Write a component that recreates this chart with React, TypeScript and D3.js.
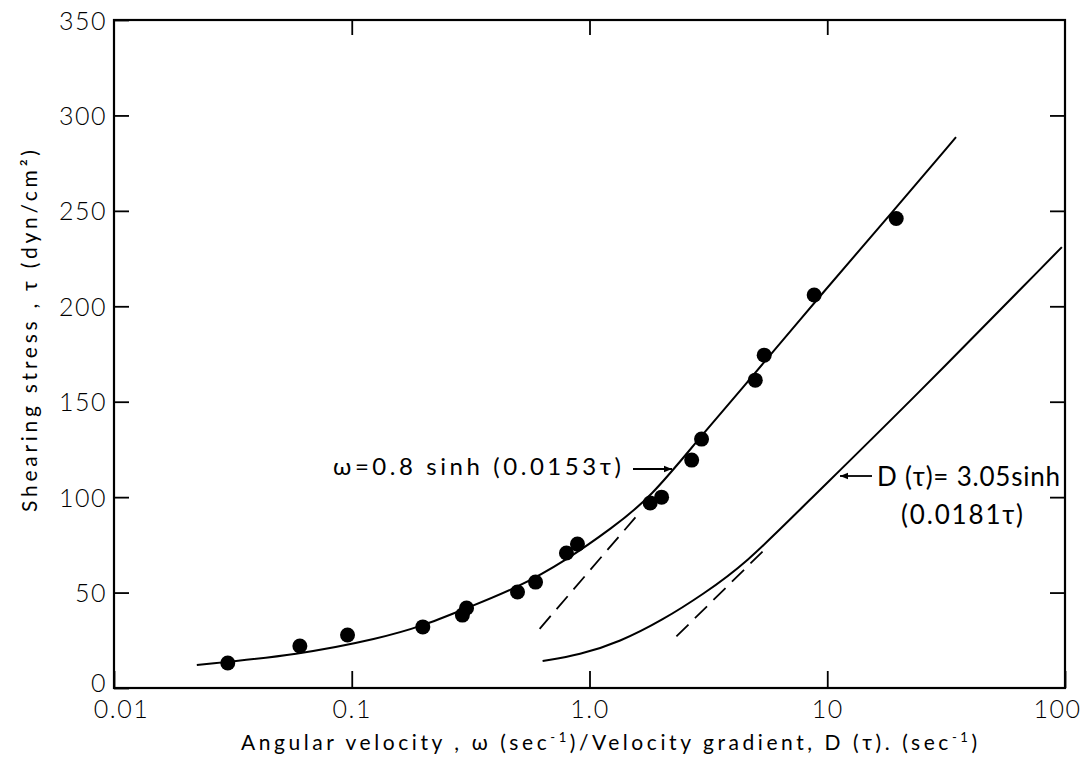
import React, { useEffect, useRef } from "react";
import * as d3 from "d3";

// Measured shear stress (dyn/cm²) against angular velocity ω (sec⁻¹)
const pointOmega = [0.0301, 0.0605, 0.096, 0.199, 0.292, 0.304, 0.498, 0.593, 0.8, 0.89, 1.8, 2.01, 2.69, 2.96, 4.98, 5.43, 8.81, 19.5];
const pointTau = [13.1, 22, 27.8, 32, 38.2, 41.9, 50.3, 55.5, 70.7, 75.4, 96.9, 100, 119.4, 130.4, 161.3, 174.4, 205.9, 246];

// Fitted curve ω = 0.8 sinh(0.0153τ)
const omegaCurveX = [0.0223, 0.0605, 0.131, 0.199, 0.299, 0.498, 0.8, 1.249, 1.8, 2.9, 3.99, 9.4, 19.1, 34.8];
const omegaCurveTau = [12.0, 17.5, 26, 32.5, 41.5, 52.5, 67, 84, 99.5, 131, 150.9, 206, 250.4, 288.6];

// Derived curve D(τ) = 3.05 sinh(0.0181τ)
const gradCurveX = [0.635, 0.908, 1.34, 2.03, 3.0, 4.57, 7.62, 22.7, 97];
const gradCurveTau = [14.1, 17.3, 24.1, 35.6, 49, 65.5, 93.2, 150.9, 231];

// Tangent (dashed) segments
const omegaTangentX = [0.617, 1.6];
const omegaTangentTau = [31, 91];
const gradTangentX = [2.32, 5.6];
const gradTangentTau = [27, 74];

const xTicks = [0.01, 0.1, 1, 10, 100];
const xTickLabels = ["0.01", "0.1", "1.0", "10", "100"];
const yTicks = [0, 50, 100, 150, 200, 250, 300, 350];

const W = 1091;
const H = 768;
const M = { left: 114, right: 1065, top: 20, bottom: 688 };
const FONT = "Lato, 'Open Sans', sans-serif";

export default function App() {
  const ref = useRef<SVGSVGElement>(null);

  useEffect(() => {
    const svg = d3.select(ref.current);
    svg.selectAll("*").remove();

    const x = d3.scaleLog().domain([0.01, 100]).range([M.left, M.right]);
    const y = d3.scaleLinear().domain([0, 350]).range([M.bottom, M.top]);

    const defs = svg.append("defs");
    defs
      .append("marker")
      .attr("id", "arrow")
      .attr("viewBox", "0 0 10 10")
      .attr("refX", 10)
      .attr("refY", 5)
      .attr("markerWidth", 14)
      .attr("markerHeight", 8)
      .attr("markerUnits", "userSpaceOnUse")
      .attr("orient", "auto")
      .append("path")
      .attr("d", "M0,1 L10,5 L0,9 Z")
      .attr("fill", "#000");

    // Frame
    svg
      .append("rect")
      .attr("x", M.left)
      .attr("y", M.top)
      .attr("width", M.right - M.left)
      .attr("height", M.bottom - M.top)
      .attr("fill", "none")
      .attr("stroke", "#000")
      .attr("stroke-width", 2.2);

    const styleAxis = (g: d3.Selection<SVGGElement, unknown, null, undefined>) => {
      g.select(".domain").remove();
      g.selectAll(".tick line").attr("stroke", "#000").attr("stroke-width", 1.8);
      g.selectAll(".tick text")
        .attr("fill", "#000")
        .style("font-family", FONT)
        .style("font-weight", "300")
        .style("font-size", "25px")
        .style("letter-spacing", "1.5px");
    };

    // Left axis
    const gl = svg
      .append("g")
      .attr("transform", `translate(${M.left},0)`)
      .call(d3.axisLeft(y).tickValues(yTicks).tickSize(-15).tickPadding(7).tickFormat(d3.format("d")));
    styleAxis(gl);
    gl.selectAll(".tick text")
      .attr("dy", "0.36em")
      .attr("y", (d) => ((d as number) === 0 ? -6 : 0));

    // Right axis (ticks only)
    const gr = svg
      .append("g")
      .attr("transform", `translate(${M.right},0)`)
      .call(d3.axisRight(y).tickValues(yTicks.slice(1, -1)).tickSize(-15).tickFormat(() => ""));
    styleAxis(gr);

    // Bottom axis
    const gb = svg
      .append("g")
      .attr("transform", `translate(0,${M.bottom})`)
      .call(
        d3
          .axisBottom(x)
          .tickValues(xTicks)
          .tickSize(-17)
          .tickPadding(10)
          .tickFormat((_, i) => xTickLabels[i])
      );
    styleAxis(gb);
    gb.selectAll(".tick text")
      .attr("dy", "0.8em")
      .attr("dx", (_, i) => (i === 0 ? 7 : i === xTicks.length - 1 ? -8 : 0));

    // Top axis (ticks only)
    const gt = svg
      .append("g")
      .attr("transform", `translate(0,${M.top})`)
      .call(d3.axisTop(x).tickValues(xTicks.slice(1, -1)).tickSize(-15).tickFormat(() => ""));
    styleAxis(gt);

    const smooth = d3
      .line<[number, number]>()
      .x((d) => x(d[0]))
      .y((d) => y(d[1]))
      .curve(d3.curveBasis);

    const zip = (a: number[], b: number[]) => a.map((v, i) => [v, b[i]] as [number, number]);

    svg
      .append("path")
      .attr("d", smooth(zip(omegaCurveX, omegaCurveTau)))
      .attr("fill", "none")
      .attr("stroke", "#000")
      .attr("stroke-width", 2);

    svg
      .append("path")
      .attr("d", smooth(zip(gradCurveX, gradCurveTau)))
      .attr("fill", "none")
      .attr("stroke", "#000")
      .attr("stroke-width", 2);

    const straight = d3
      .line<[number, number]>()
      .x((d) => x(d[0]))
      .y((d) => y(d[1]));

    [zip(omegaTangentX, omegaTangentTau), zip(gradTangentX, gradTangentTau)].forEach((seg) => {
      svg
        .append("path")
        .attr("d", straight(seg))
        .attr("fill", "none")
        .attr("stroke", "#000")
        .attr("stroke-width", 1.8)
        .attr("stroke-dasharray", "17 9");
    });

    // Data points
    svg
      .append("g")
      .selectAll("circle")
      .data(zip(pointOmega, pointTau))
      .join("circle")
      .attr("cx", (d) => x(d[0]))
      .attr("cy", (d) => y(d[1]))
      .attr("r", 7.5)
      .attr("fill", "#000");

    // Curve annotations
    svg
      .append("text")
      .attr("x", 333)
      .attr("y", 475)
      .attr("textLength", 288)
      .attr("lengthAdjust", "spacing")
      .style("font-family", FONT)
      .style("font-size", "24px")
      .text("ω=0.8 sinh (0.0153τ)");
    svg
      .append("line")
      .attr("x1", 633)
      .attr("y1", 469)
      .attr("x2", 672)
      .attr("y2", 469)
      .attr("stroke", "#000")
      .attr("stroke-width", 1.8)
      .attr("marker-end", "url(#arrow)");

    svg
      .append("line")
      .attr("x1", 872)
      .attr("y1", 476)
      .attr("x2", 840)
      .attr("y2", 476)
      .attr("stroke", "#000")
      .attr("stroke-width", 1.8)
      .attr("marker-end", "url(#arrow)");
    svg
      .append("text")
      .attr("x", 877)
      .attr("y", 486)
      .attr("textLength", 183)
      .attr("lengthAdjust", "spacing")
      .style("font-family", FONT)
      .style("font-size", "26px")
      .text("D (τ)= 3.05sinh");
    svg
      .append("text")
      .attr("x", 901)
      .attr("y", 524)
      .attr("textLength", 122)
      .attr("lengthAdjust", "spacing")
      .style("font-family", FONT)
      .style("font-size", "26px")
      .text("(0.0181τ)");

    // Axis titles
    const xt = svg
      .append("text")
      .attr("x", 241)
      .attr("y", 750)
      .attr("textLength", 736)
      .attr("lengthAdjust", "spacing")
      .style("font-family", FONT)
      .style("font-size", "21px");
    xt.append("tspan").text("Angular  velocity , ω  (sec");
    xt.append("tspan").attr("dy", -8).style("font-size", "13px").text("-1");
    xt.append("tspan").attr("dy", 8).text(")/Velocity gradient,  D (τ).  (sec");
    xt.append("tspan").attr("dy", -8).style("font-size", "13px").text("-1");
    xt.append("tspan").attr("dy", 8).text(")");

    svg
      .append("text")
      .attr("transform", "translate(37,331) rotate(-90)")
      .attr("text-anchor", "middle")
      .attr("textLength", 362)
      .attr("lengthAdjust", "spacing")
      .style("font-family", FONT)
      .style("font-size", "21px")
      .text("Shearing  stress , τ  (dyn/cm²)");
  }, []);

  return (
    <svg
      ref={ref}
      width={W}
      height={H}
      viewBox={`0 0 ${W} ${H}`}
      style={{ position: "absolute", left: 0, top: 0, background: "#fff" }}
    />
  );
}
